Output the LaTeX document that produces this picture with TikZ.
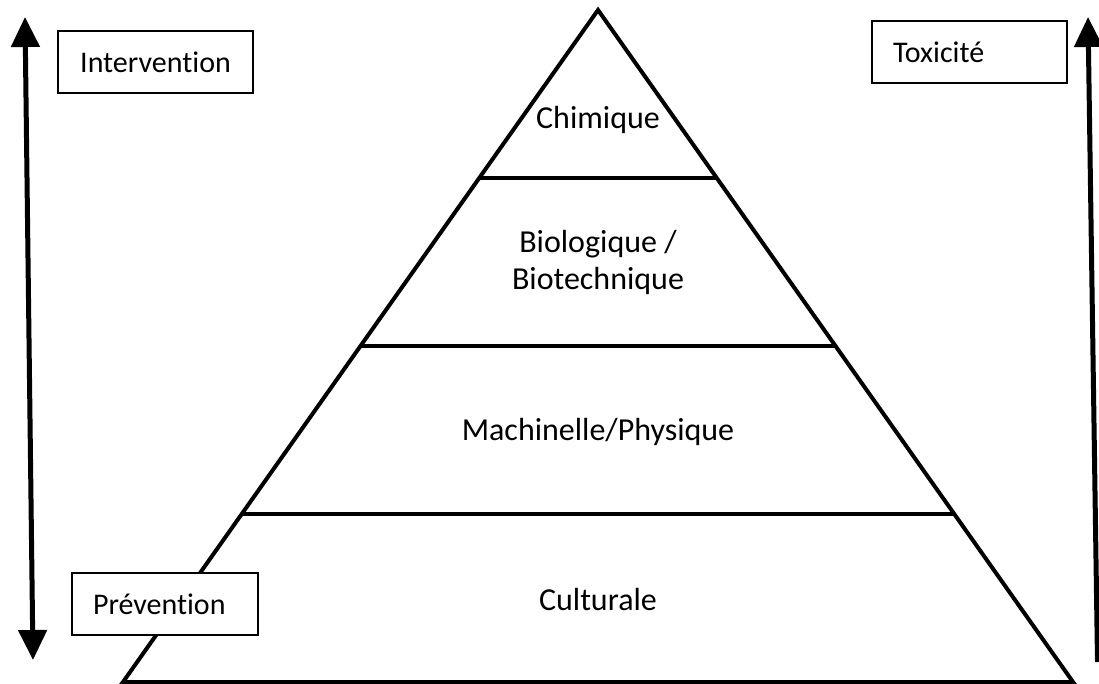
\documentclass[tikz,border=0pt]{standalone}
\usepackage{fontspec}
\setmainfont{Carlito}[Ligatures=NoCommon]
\usetikzlibrary{arrows.meta}
\tikzset{bigtip/.tip={Triangle[length=30pt,width=28pt]}}
\begin{document}
\begin{tikzpicture}[x=1pt,y=-1pt,
  edge/.style={line width=4pt, line join=miter},
  level/.style={line width=4pt},
  lbl/.style={font=\fontsize{32}{37}\selectfont, inner sep=0pt},
  tag/.style={draw, line width=1.5pt, minimum width=195pt, minimum height=62pt, font=\fontsize{30}{36}\selectfont, inner sep=0pt},
  axis/.style={line width=5pt}]
\useasboundingbox (0,0) rectangle (1099,684);
% pyramid
\coordinate (apex) at (598,10);
\coordinate (bl) at (123,682);
\coordinate (br) at (1073,682);
\draw[edge] (apex) -- (bl) -- (br) -- cycle;
\coordinate (l1) at (479.25,178); \coordinate (r1) at (716.75,178);
\coordinate (l2) at (360.5,346);  \coordinate (r2) at (835.5,346);
\coordinate (l3) at (241.75,514); \coordinate (r3) at (954.25,514);
\draw[level] (l1) -- (r1);
\draw[level] (l2) -- (r2);
\draw[level] (l3) -- (r3);
\node[lbl] (chim) at (598,120) {Chimique};
\node[lbl, align=center] (bio) at (598,262) {Biologique /\\Biotechnique};
\node[lbl] (mach) at (598,432) {Machinelle/Physique};
\node[lbl] (cult) at (598,600) {Culturale};
% boxes
\node[tag, fill=white] (interv) at (155.5,62) {Intervention};
\node[tag, fill=white, inner xsep=21pt, text width=153pt, align=left] (tox) at (969.5,52) {Toxicité};
\node[tag, fill=white, minimum width=186pt, inner xsep=21pt, text width=144pt, align=left] (prev) at (165,604) {Prévention};
% arrows
\coordinate (lt) at (25,17);
\coordinate (lb) at (33,660);
\draw[axis, bigtip-bigtip] (lb) -- (lt);
\coordinate (rt) at (1088,17);
\coordinate (rb) at (1097.5,662);
\draw[axis, -bigtip] (rb) -- (rt);
\end{tikzpicture}
\end{document}
